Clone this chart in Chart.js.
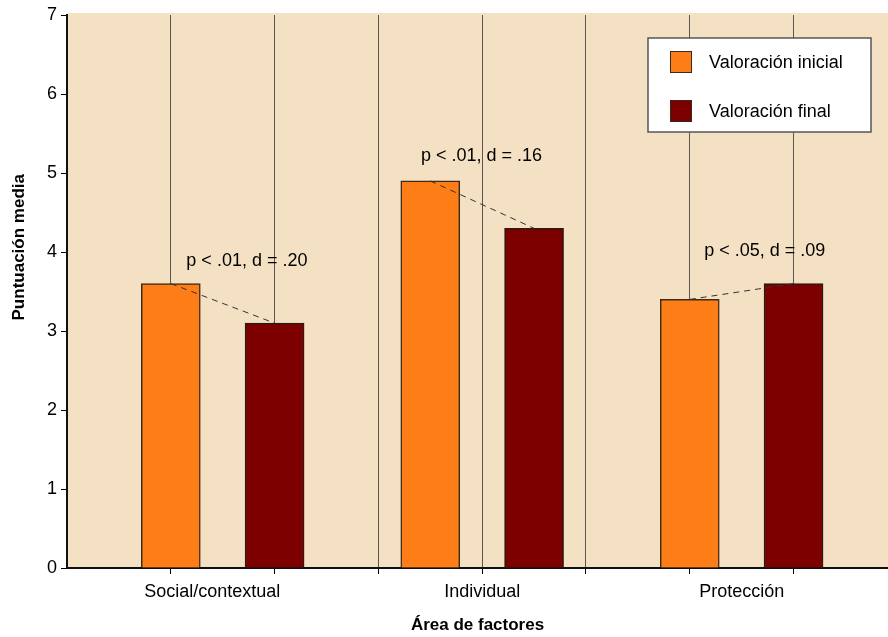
<!DOCTYPE html>
<html>
<head>
<meta charset="utf-8">
<script src="https://cdn.jsdelivr.net/npm/chart.js@4.4.0/dist/chart.umd.min.js"></script>
<style>
  html, body { margin: 0; padding: 0; background: #ffffff; }
  #wrap { width: 888px; height: 637px; }
</style>
</head>
<body>
<div id="wrap"><canvas id="myChart" width="888" height="637"></canvas></div>
<script>
// data
const categories = ['Social/contextual', 'Individual', 'Protección'];
const categoryTickPos = [1.4, 4, 6.5];
const gridTickPos = [1, 2, 3, 4, 5, 6, 7];
const seriesLabels = ['Valoración inicial', 'Valoración final'];
const inicialPos = [1, 3.5, 6];
const inicialValues = [3.6, 4.9, 3.4];
const finalPos = [2, 4.5, 7];
const finalValues = [3.1, 4.3, 3.6];
const yTickValues = [0, 1, 2, 3, 4, 5, 6, 7];
const noteLabels = ['p < .01, d = .20', 'p < .01, d = .16', 'p < .05, d = .09'];
const notePos = [1.15, 3.41, 6.14];
const noteValues = [3.89, 5.21, 4.01];

const FONT = "'Liberation Sans', Arial, Helvetica, sans-serif";
const orange = '#fd7d16';
const darkRed = '#7c0000';

// dashed connectors between the two bars of every group
let dashData = [];
for (let i = 0; i < inicialPos.length; i++) {
  dashData.push({x: inicialPos[i], y: inicialValues[i]});
  dashData.push({x: finalPos[i], y: finalValues[i]});
  dashData.push({x: (finalPos[i] + (inicialPos[i + 1] || finalPos[i] + 1)) / 2, y: null});
}

const bgPlugin = {
  id: 'bgPlugin',
  beforeDraw(chart) {
    const a = chart.chartArea;
    const ctx = chart.ctx;
    ctx.save();
    ctx.fillStyle = '#f4e0c2';
    ctx.fillRect(a.left, a.top - 2, a.right - a.left, a.bottom - a.top + 2);
    ctx.restore();
  }
};

const notesPlugin = {
  id: 'notesPlugin',
  afterDatasetsDraw(chart) {
    const ctx = chart.ctx;
    const x = chart.scales.x;
    const y = chart.scales.y;
    ctx.save();
    ctx.font = '18px ' + FONT;
    ctx.fillStyle = '#000';
    ctx.textAlign = 'left';
    ctx.textBaseline = 'middle';
    noteLabels.forEach((t, i) => {
      ctx.fillText(t, x.getPixelForValue(notePos[i]), y.getPixelForValue(noteValues[i]));
    });
    ctx.restore();
  }
};

const legendPlugin = {
  id: 'legendPlugin',
  afterDraw(chart) {
    const ctx = chart.ctx;
    const a = chart.chartArea;
    const bx = a.right - 240, by = a.top + 23, bw = 223, bh = 94;
    ctx.save();
    ctx.fillStyle = '#ffffff';
    ctx.fillRect(bx, by, bw, bh);
    ctx.strokeStyle = '#555';
    ctx.lineWidth = 1.5;
    ctx.strokeRect(bx, by, bw, bh);
    const bars = chart.data.datasets.filter(d => d.type !== 'line');
    bars.forEach((d, i) => {
      const cy = by + 24 + i * 49;
      ctx.fillStyle = d.backgroundColor;
      ctx.fillRect(bx + 22, cy - 11, 22, 22);
      ctx.strokeStyle = '#3a2a1c';
      ctx.lineWidth = 1;
      ctx.strokeRect(bx + 22.5, cy - 10.5, 21, 21);
      ctx.fillStyle = '#000';
      ctx.font = '18px ' + FONT;
      ctx.textAlign = 'left';
      ctx.textBaseline = 'middle';
      ctx.fillText(d.label, bx + 61, cy + 1);
    });
    ctx.restore();
  }
};

const yTitlePlugin = {
  id: 'yTitlePlugin',
  afterDraw(chart) {
    const ctx = chart.ctx;
    const a = chart.chartArea;
    ctx.save();
    ctx.translate(19, a.top + (a.bottom - a.top) * 0.42);
    ctx.rotate(-Math.PI / 2);
    ctx.font = 'bold 17px ' + FONT;
    ctx.fillStyle = '#000';
    ctx.textAlign = 'center';
    ctx.textBaseline = 'middle';
    ctx.fillText('Puntuación media', 0, 0);
    ctx.restore();
  }
};

const ctx = document.getElementById('myChart').getContext('2d');
const myChart = new Chart(ctx, {
  type: 'bar',
  data: {
    datasets: [
      {
        type: 'line',
        label: 'diferencia',
        data: dashData,
        borderColor: '#333',
        borderWidth: 1,
        borderDash: [6, 5],
        pointRadius: 0,
        spanGaps: false,
        order: 0
      },
      {
        label: seriesLabels[0],
        data: inicialPos.map((p, i) => ({x: p, y: inicialValues[i]})),
        backgroundColor: orange,
        borderColor: '#3e2a18',
        borderWidth: 1.5,
        order: 1
      },
      {
        label: seriesLabels[1],
        data: finalPos.map((p, i) => ({x: p, y: finalValues[i]})),
        backgroundColor: darkRed,
        borderColor: '#2a1a12',
        borderWidth: 1.5,
        order: 1
      }
    ]
  },
  options: {
    responsive: false,
    animation: false,
    devicePixelRatio: 1,
    grouped: false,
    barThickness: 59,
    layout: { padding: { top: 15, right: 0, left: 0, bottom: 0 } },
    plugins: {
      legend: { display: false },
      tooltip: { enabled: false }
    },
    scales: {
      x: {
        type: 'linear',
        min: 0,
        max: 7.91,
        offset: false,
        afterBuildTicks: (axis) => {
          axis.ticks = [...new Set([...gridTickPos, ...categoryTickPos])]
            .sort((a, b) => a - b)
            .map(v => ({value: v}));
        },
        afterFit: (scale) => { scale.height = 69; },
        ticks: {
          autoSkip: false,
          maxRotation: 0,
          minRotation: 0,
          padding: 7,
          color: '#000',
          font: { family: FONT, size: 18 },
          callback: (value) => {
            const i = categoryTickPos.indexOf(value);
            return i >= 0 ? categories[i] : '';
          }
        },
        grid: {
          offset: false,
          drawOnChartArea: true,
          tickLength: 6,
          lineWidth: 1,
          color: (c) => (c.tick && gridTickPos.includes(c.tick.value)) ? '#5c5650' : 'rgba(0,0,0,0)',
          tickColor: (c) => (c.tick && gridTickPos.includes(c.tick.value)) ? '#000' : 'rgba(0,0,0,0)'
        },
        border: { display: true, color: '#111', width: 2 },
        title: {
          display: true,
          text: 'Área de factores',
          color: '#000',
          font: { family: FONT, size: 17, weight: 'bold' },
          padding: { top: 0, bottom: 1 }
        }
      },
      y: {
        min: 0,
        max: 7,
        afterBuildTicks: (axis) => {
          axis.ticks = yTickValues.map(v => ({value: v}));
        },
        afterFit: (scale) => { scale.width = 67; },
        ticks: {
          padding: 4,
          color: '#000',
          font: { family: FONT, size: 18 }
        },
        grid: {
          drawOnChartArea: false,
          tickLength: 6,
          color: '#000'
        },
        border: { display: true, color: '#111', width: 2 }
      }
    }
  },
  plugins: [bgPlugin, notesPlugin, legendPlugin, yTitlePlugin]
});
</script>
</body>
</html>
